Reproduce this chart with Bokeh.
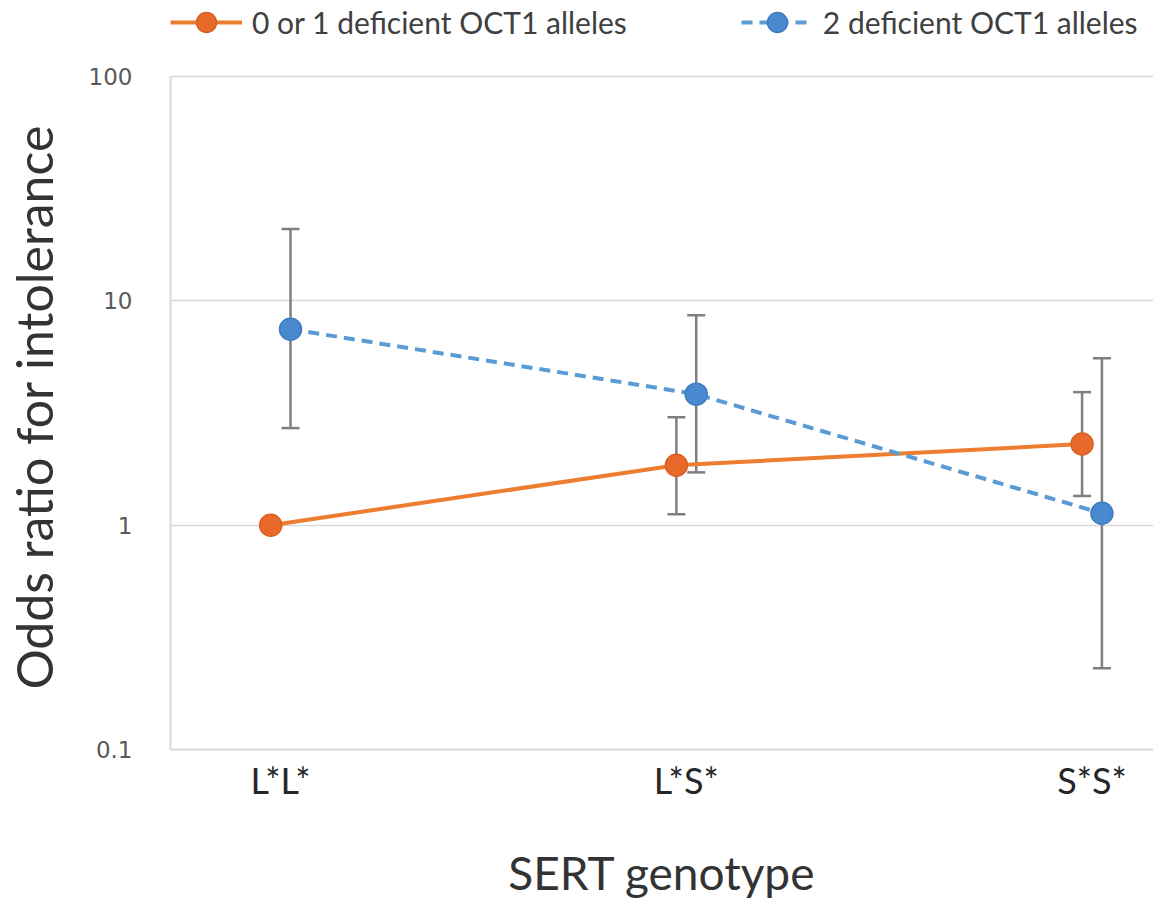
import numpy as np
from bokeh.plotting import figure
from bokeh.models import (ColumnDataSource, Whisker, TeeHead, Legend, LegendItem,
                          FixedTicker, CustomJSTickFormatter, Range1d)
from bokeh.embed import file_html
from bokeh.resources import INLINE

categories = ["L*L*", "L*S*", "S*S*"]
series_names = ["0 or 1 deficient OCT1 alleles", "2 deficient OCT1 alleles"]

or_low = [1.0, 1.85, 2.30]
or_low_lower = [1.0, 1.12, 1.35]
or_low_upper = [1.0, 3.03, 3.92]

or_high = [7.48, 3.84, 1.13]
or_high_lower = [2.71, 1.72, 0.23]
or_high_upper = [20.9, 8.63, 5.55]

y_ticks = [0.1, 1, 10, 100]

ORANGE = "#ED7D31"
BLUE = "#5B9BD5"
GRAY = "#7F7F7F"
LIGHT = "#D9D9D9"
FONT = "Lato"

W, H = 1153, 910
left, top = 162, 0
frame_bottom = 749
bottom = H - frame_bottom
frame_w = W - left
frame_h = frame_bottom - top
decade_px = 224.3
y_end = 10 ** (-1 + frame_h / decade_px)   # room above 100 for the legend

x_px0 = 273 - left          # category 0 center from frame left
x_scale = 409.0             # px per category
x_start = -x_px0 / x_scale
x_end = (frame_w - x_px0) / x_scale
off = 10.0 / x_scale

xi = np.arange(len(categories), dtype=float)

p = figure(width=W, height=H, y_axis_type="log", output_backend="svg",
           toolbar_location=None, x_range=Range1d(x_start, x_end),
           y_range=Range1d(0.1, y_end),
           min_border_left=left, min_border_top=top, min_border_bottom=bottom,
           min_border_right=0)
p.outline_line_color = None
p.background_fill_color = "white"
p.border_fill_color = "white"

src1 = ColumnDataSource(dict(x=xi - off, y=or_low, lo=or_low_lower, hi=or_low_upper))
src2 = ColumnDataSource(dict(x=xi + off, y=or_high, lo=or_high_lower, hi=or_high_upper))

for s in (src1, src2):
    w = Whisker(source=s, base="x", lower="lo", upper="hi", dimension="height",
                line_color=GRAY, line_width=2.5,
                upper_head=TeeHead(size=18, line_color=GRAY, line_width=2.5),
                lower_head=TeeHead(size=18, line_color=GRAY, line_width=2.5))
    p.add_layout(w)

l1 = p.line("x", "y", source=src1, line_color=ORANGE, line_width=4)
l2 = p.line("x", "y", source=src2, line_color=BLUE, line_width=4, line_dash="11 7")
m1 = p.scatter("x", "y", source=src1, size=22, fill_color="#E8692A",
               line_color="#D9601F", line_width=1.5)
m2 = p.scatter("x", "y", source=src2, size=22, fill_color="#4A89CF",
               line_color="#3F7BBF", line_width=1.5)

# axes
p.xaxis.ticker = FixedTicker(ticks=list(xi))
p.xaxis.major_label_overrides = {int(i): c for i, c in enumerate(categories)}
p.xaxis.major_label_text_font = FONT
p.xaxis.major_label_text_font_size = "36px"
p.xaxis.major_label_text_color = "#262626"
p.xaxis.major_label_standoff = 2
p.xaxis.major_tick_line_color = None
p.xaxis.minor_tick_line_color = None
p.xaxis.axis_line_color = LIGHT
p.xaxis.axis_line_width = 2
p.xaxis.axis_label = "SERT genotype"
p.xaxis.axis_label_text_font = FONT
p.xaxis.axis_label_text_font_style = "normal"
p.xaxis.axis_label_text_font_size = "46px"
p.xaxis.axis_label_text_color = "#333333"
p.xaxis.axis_label_standoff = 40

p.yaxis.ticker = FixedTicker(ticks=y_ticks)
p.yaxis.bounds = (0.1, 100)
p.yaxis.formatter = CustomJSTickFormatter(
    code="return tick >= 1 ? tick.toFixed(0) : tick.toFixed(1);")
p.yaxis.major_label_text_font = "DejaVu Sans"
p.yaxis.major_label_text_font_size = "23px"
p.yaxis.major_label_text_color = "#595959"
p.yaxis.major_label_standoff = 32
p.yaxis.major_tick_line_color = None
p.yaxis.minor_tick_line_color = None
p.yaxis.axis_line_color = LIGHT
p.yaxis.axis_line_width = 2
# trailing no-break spaces nudge the rotated title down to centre it on 0.1..100
p.yaxis.axis_label = "Odds ratio for intolerance" + "\u00a0" * 5
p.yaxis.axis_label_text_font = FONT
p.yaxis.axis_label_text_font_style = "normal"
p.yaxis.axis_label_text_font_size = "50px"
p.yaxis.axis_label_text_color = "#333333"
p.yaxis.axis_label_standoff = 22

p.xgrid.grid_line_color = None
p.ygrid.ticker = FixedTicker(ticks=y_ticks)
p.ygrid.grid_line_color = LIGHT
p.ygrid.grid_line_width = 1.5

legend = Legend(items=[LegendItem(label=series_names[0], renderers=[l1, m1]),
                       LegendItem(label=series_names[1], renderers=[l2, m2])],
                orientation="horizontal", location=(0, frame_h - 47),
                glyph_width=72, glyph_height=50, label_standoff=10, spacing=114,
                label_text_font=FONT, label_text_font_size="30px",
                label_text_color="#404040", border_line_color=None,
                background_fill_alpha=0, padding=0, margin=0)
p.add_layout(legend, "center")

html = file_html(p, INLINE)
with open("out.html", "w") as f:
    f.write(html)
